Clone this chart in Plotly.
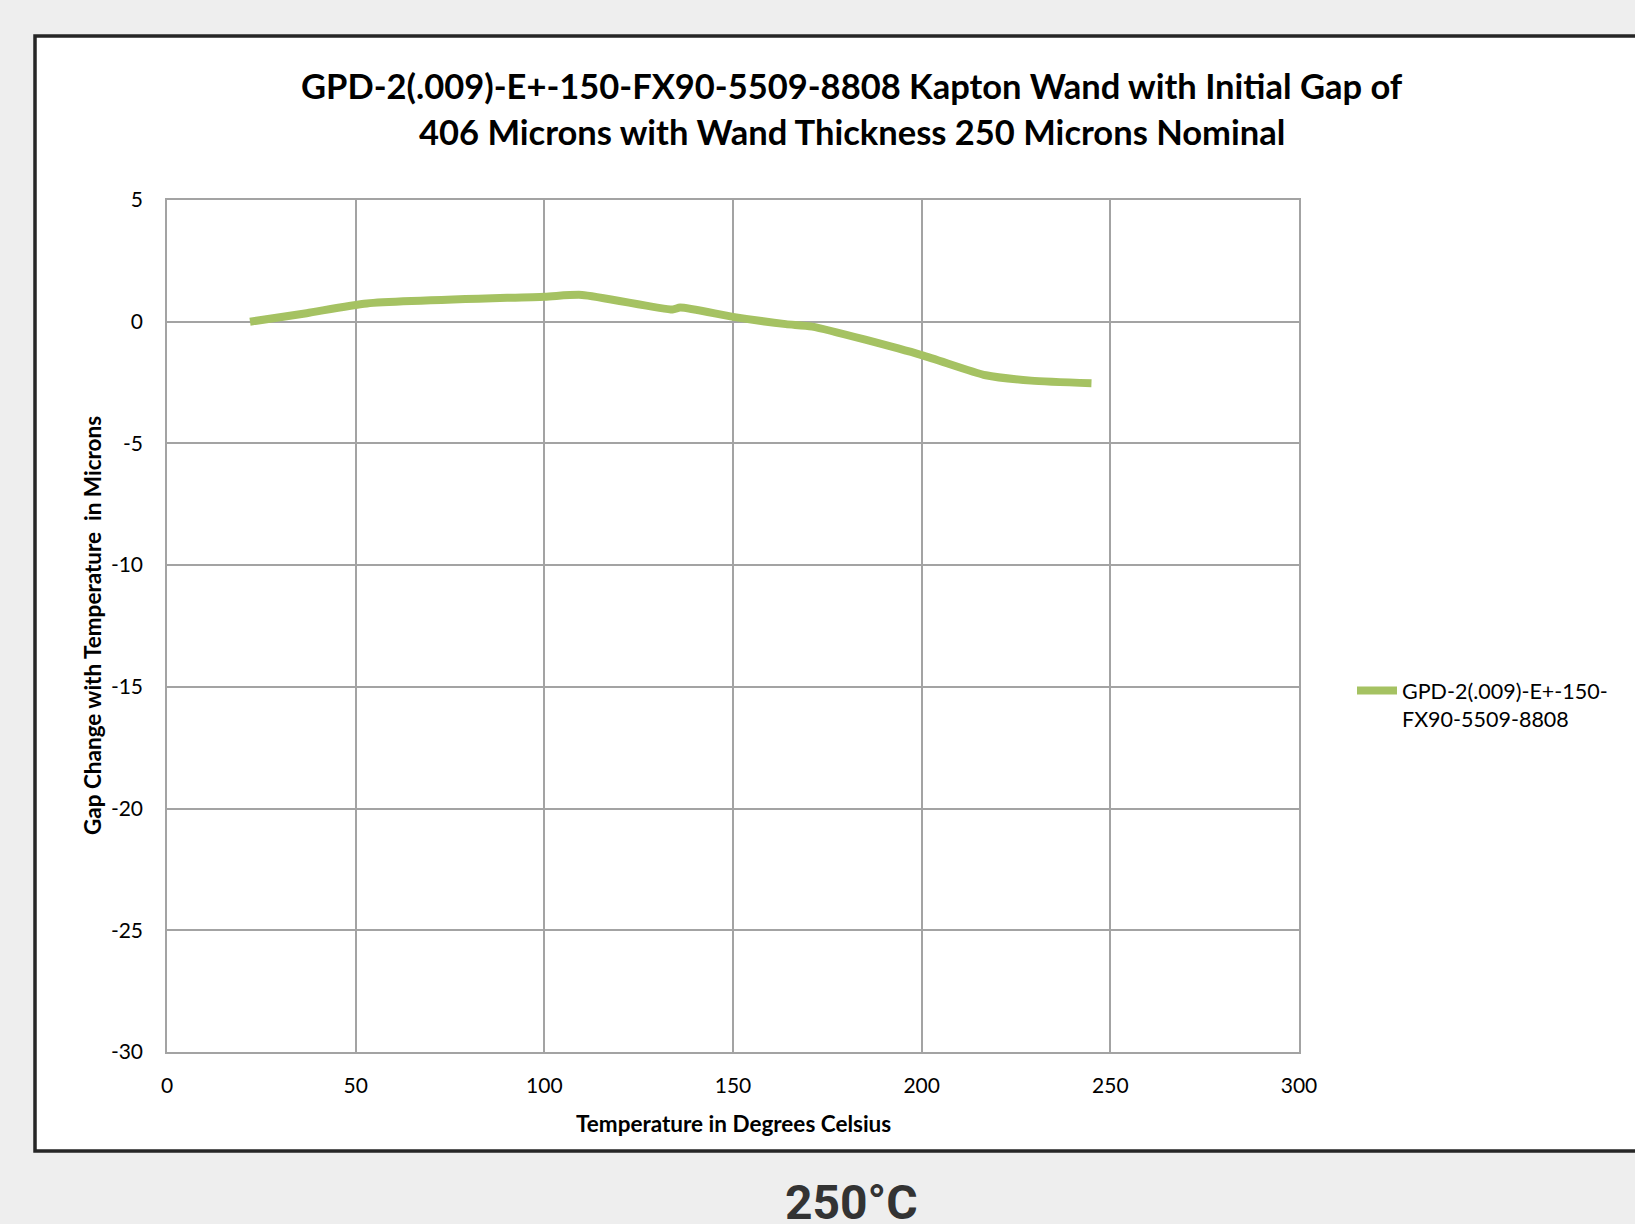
import plotly.graph_objects as go

# Data
temperature_c = [22, 37, 53, 100, 110, 134, 136, 150, 164, 171, 200, 217, 229, 245]
gap_change_um = [0.0, 0.35, 0.75, 1.03, 1.1, 0.5, 0.58, 0.2, -0.1, -0.2, -1.37, -2.2, -2.42, -2.53]
series_name = "GPD-2(.009)-E+-150-<br>FX90-5509-8808"
x_ticks = [0, 50, 100, 150, 200, 250, 300]
y_ticks = [5, 0, -5, -10, -15, -20, -25, -30]
y_tick_text = ["5", "0", "-5", "-10", "-15", "-20", "-25", "-30"]

W, H = 1635, 1224
L, R, T, B = 167, 1299, 200, 1052
pw, ph = R - L, B - T

def px(x):
    return (x - L) / pw

def py(y):
    return (B - y) / ph

fig = go.Figure()
fig.add_trace(go.Scatter(
    x=temperature_c, y=gap_change_um, mode="lines", name=series_name,
    line=dict(color="#a5c262", width=8, shape="spline", smoothing=0.6),
))

grid = "#a3a3a3"
fig.update_layout(
    width=W, height=H,
    margin=dict(l=L, r=W - R, t=T, b=H - B),
    paper_bgcolor="#eeeeee", plot_bgcolor="#ffffff",
    font=dict(family="Lato, 'Open Sans', sans-serif", color="#000000"),
    showlegend=True,
    legend=dict(x=px(1352), y=py(670), xanchor="left", yanchor="top",
                font=dict(size=21.5, family="Lato"), valign="top",
                bgcolor="rgba(0,0,0,0)", itemwidth=40),
    xaxis=dict(range=[0, 300], tickvals=x_ticks, showgrid=True, gridcolor=grid, gridwidth=1.5,
               showline=True, linecolor=grid, linewidth=1.5, mirror=True, zeroline=False,
               tickfont=dict(size=21), ticks="", ticklabelstandoff=14),
    yaxis=dict(range=[-30, 5], tickvals=y_ticks, ticktext=y_tick_text, showgrid=True,
               gridcolor=grid, gridwidth=1.5,
               showline=True, linecolor=grid, linewidth=1.5, mirror=True, zeroline=False,
               tickfont=dict(size=21), ticks="", ticklabelstandoff=18),
    shapes=[dict(type="rect", xref="paper", yref="paper",
                 x0=px(35), x1=px(1700), y0=py(1151), y1=py(36),
                 line=dict(color="#262626", width=3.5), fillcolor="#ffffff", layer="below")],
    annotations=[
        dict(text="<b>GPD-2(.009)-E+-150-FX90-5509-8808 Kapton Wand with Initial Gap of</b>",
             x=px(852), y=py(85), xref="paper", yref="paper", showarrow=False,
             font=dict(size=34.5, family="Lato"), xanchor="center", yanchor="middle"),
        dict(text="<b>406 Microns with Wand Thickness 250 Microns Nominal</b>",
             x=px(852), y=py(132), xref="paper", yref="paper", showarrow=False,
             font=dict(size=34.5, family="Lato"), xanchor="center", yanchor="middle"),
        dict(text="<b>Temperature in Degrees Celsius</b>",
             x=px(733), y=py(1123), xref="paper", yref="paper", showarrow=False,
             font=dict(size=22.5, family="Lato"), xanchor="center", yanchor="middle"),
        dict(text="<b>Gap Change with Temperature  in Microns</b>",
             x=px(92), y=py(626), xref="paper", yref="paper", showarrow=False, textangle=-90,
             font=dict(size=22.5, family="Lato"), xanchor="center", yanchor="middle"),
        dict(text="<b>250°C</b>",
             x=px(851), y=py(1202), xref="paper", yref="paper", showarrow=False,
             font=dict(size=48, family="Roboto", color="#333333"), xanchor="center", yanchor="middle"),
    ],
)

fig.write_html("out.html")
